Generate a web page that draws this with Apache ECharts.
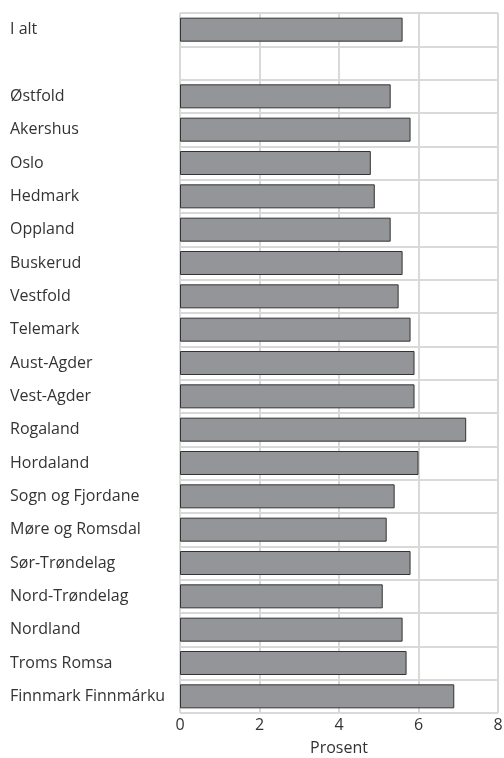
<!DOCTYPE html>
<html>
<head>
<meta charset="utf-8">
<script src="https://cdn.jsdelivr.net/npm/echarts@6/dist/echarts.min.js"></script>
<style>
  html, body { margin: 0; padding: 0; background: #fff; }
  #chart { width: 504px; height: 758px; }
</style>
</head>
<body>
<div id="chart"></div>
<script>
// fylker, øverst først (tom rad etter "I alt")
const regions = [
  'I alt', '',
  'Østfold', 'Akershus', 'Oslo', 'Hedmark', 'Oppland', 'Buskerud', 'Vestfold',
  'Telemark', 'Aust-Agder', 'Vest-Agder', 'Rogaland', 'Hordaland',
  'Sogn og Fjordane', 'Møre og Romsdal', 'Sør-Trøndelag', 'Nord-Trøndelag',
  'Nordland', 'Troms Romsa', 'Finnmark Finnmárku'
]
const prosent = [
  5.6, null,
  5.3, 5.8, 4.8, 4.9, 5.3, 5.6, 5.5,
  5.8, 5.9, 5.9, 7.2, 6.0,
  5.4, 5.2, 5.8, 5.1,
  5.6, 5.7, 6.9
]
const xTicks = [0, 2, 4, 6, 8]

const FONT = '"Open Sans", "Noto Sans", sans-serif'
const GRID_COLOR = '#d9d9d9'

const chart = echarts.init(document.getElementById('chart'))

chart.setOption({
  animation: false,
  grid: { left: 180, right: 6, top: 13, bottom: 45, outerBoundsMode: 'none', containLabel: false },
  xAxis: {
    type: 'value',
    min: xTicks[0],
    max: xTicks[xTicks.length - 1],
    interval: 2,
    name: 'Prosent',
    nameLocation: 'middle',
    nameGap: 27,
    nameTextStyle: { fontFamily: FONT, fontSize: 16, color: '#333' },
    axisLine: { show: false },
    axisTick: { show: false },
    axisLabel: { fontFamily: FONT, fontSize: 16, color: '#333', margin: 4 },
    splitLine: { show: true, lineStyle: { color: GRID_COLOR, width: 2 } }
  },
  yAxis: {
    type: 'category',
    data: regions,
    inverse: true,
    axisLine: { show: false },
    axisTick: { show: false },
    axisLabel: {
      fontFamily: FONT, fontSize: 16, color: '#333',
      align: 'left', margin: 170
    },
    splitLine: { show: true, lineStyle: { color: GRID_COLOR, width: 2 } }
  },
  series: [{
    type: 'bar',
    data: prosent,
    barWidth: '72%',
    itemStyle: { color: '#939598', borderColor: '#333', borderWidth: 1 }
  }]
})
</script>
</body>
</html>
